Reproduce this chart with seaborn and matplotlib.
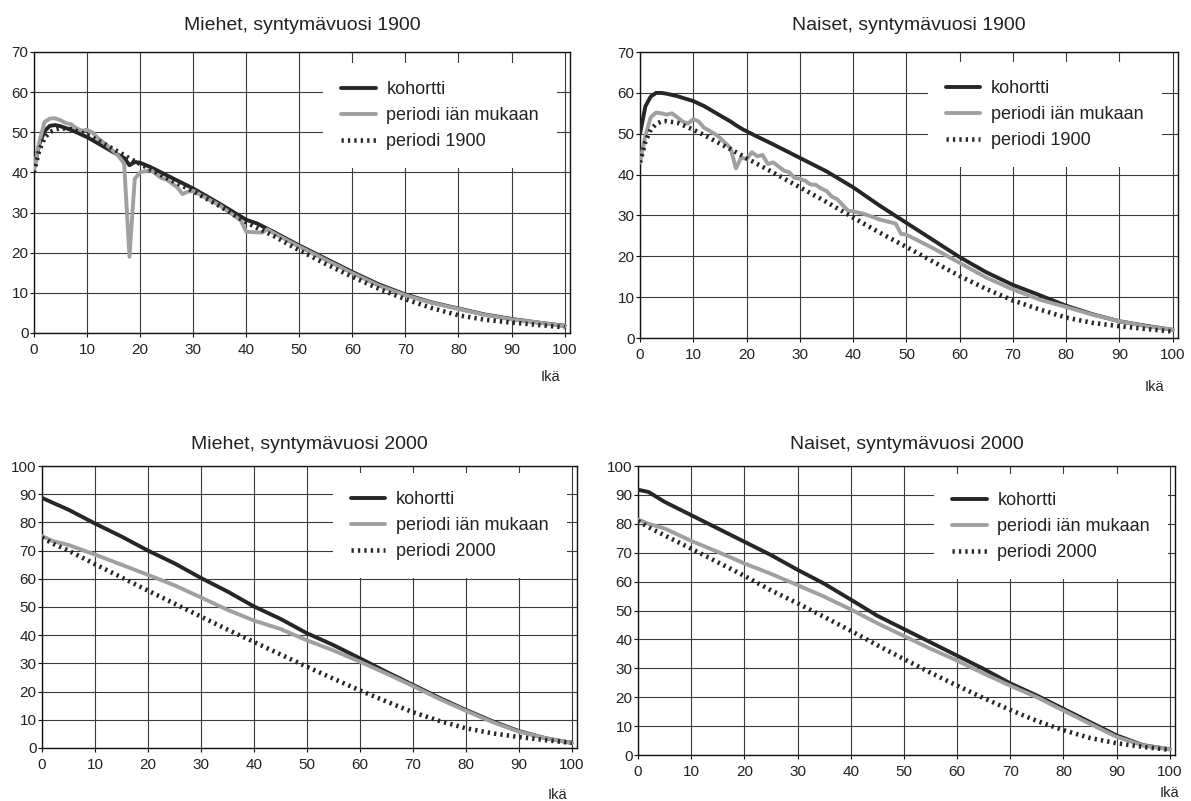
import numpy as np
import pandas as pd
import matplotlib
matplotlib.use("Agg")
import matplotlib.pyplot as plt
import seaborn as sns

# =============================================================================
# Data: remaining life expectancy by age
# =============================================================================

ages_1900 = [0, 1, 2, 3, 4, 5, 7, 10, 12, 15, 17, 18, 19, 20, 22, 25, 30, 35, 40, 42,
             45, 50, 55, 60, 65, 70, 75, 80, 85, 90, 95, 100]

# Men, born 1900
men1900_kohortti = [40.8, 47.0, 50.3, 51.6, 51.8, 51.5, 50.6, 48.8, 47.3, 45.0, 43.6, 41.8,
                    42.6, 42.4, 41.3, 39.3, 36.0, 32.2, 28.2, 27.3, 25.3, 21.8, 18.5, 15.2,
                    12.1, 9.6, 7.6, 6.1, 4.6, 3.5, 2.6, 1.8]
men1900_periodi = [40.0, 45.5, 48.6, 50.0, 50.7, 51.0, 50.8, 49.4, 48.0, 45.8, 44.3, 43.5,
                   42.8, 42.1, 40.7, 38.6, 35.3, 31.6, 27.6, 26.2, 24.3, 20.6, 17.2, 14.0,
                   11.0, 8.4, 6.2, 4.4, 3.3, 2.6, 2.0, 1.4]
men1900_ika_ages = [0, 1, 2, 3, 4, 5, 6, 7, 8, 9, 10, 11, 12, 14, 16, 17, 18, 19, 20, 22,
                    24, 25, 27, 28, 29, 30, 35, 39, 40, 43, 44, 45, 50, 55, 60, 65, 70, 75,
                    80, 85, 90, 95, 100]
men1900_ika = [40.5, 47.5, 52.6, 53.4, 53.5, 53.0, 52.3, 52.0, 51.0, 50.4, 50.6, 50.0, 48.6,
               46.5, 44.0, 42.2, 19.0, 38.4, 40.0, 40.6, 38.6, 38.2, 36.3, 34.6, 35.2, 35.4,
               31.8, 28.0, 25.2, 25.0, 25.8, 25.0, 21.5, 18.2, 14.9, 11.8, 9.4, 7.5, 6.0,
               4.5, 3.4, 2.6, 1.7]

# Women, born 1900
women1900_kohortti = [50.0, 56.7, 59.1, 60.0, 60.0, 59.8, 59.2, 58.0, 56.8, 54.5, 53.0, 52.1,
                      51.3, 50.6, 49.3, 47.4, 44.1, 40.8, 36.9, 35.1, 32.4, 28.2, 24.0, 19.8,
                      16.1, 13.0, 10.5, 7.9, 5.8, 4.1, 3.0, 2.0]
women1900_periodi = [43.0, 48.0, 51.0, 52.4, 53.0, 53.1, 52.7, 51.0, 49.7, 47.6, 46.2, 45.5,
                     44.8, 44.0, 42.6, 40.5, 36.9, 33.3, 29.5, 28.0, 25.8, 22.3, 18.7, 15.2,
                     12.0, 9.2, 7.0, 5.0, 3.7, 2.9, 2.2, 1.6]
women1900_ika_ages = [0, 1, 2, 3, 4, 5, 6, 7, 8, 9, 10, 11, 12, 14, 15, 17, 18, 19, 20, 21,
                      22, 23, 24, 25, 26, 27, 28, 29, 30, 31, 32, 33, 34, 35, 36, 37, 38, 39,
                      40, 42, 45, 48, 49, 50, 55, 60, 65, 70, 75, 80, 85, 90, 95, 100]
women1900_ika = [43.0, 49.5, 54.0, 55.2, 55.0, 54.7, 55.0, 54.0, 53.0, 52.5, 53.6, 53.0, 51.5,
                 50.0, 49.0, 46.5, 41.5, 44.2, 43.8, 45.5, 44.5, 44.8, 42.6, 43.0, 42.0, 41.0,
                 40.6, 39.2, 39.0, 38.5, 37.6, 37.5, 36.6, 36.0, 34.6, 34.0, 32.6, 31.2, 31.0,
                 30.4, 29.0, 28.0, 25.5, 25.3, 22.0, 18.4, 14.8, 11.9, 9.4, 7.6, 5.7, 4.1,
                 2.9, 2.0]

ages_2000 = [0, 2, 5, 10, 15, 20, 25, 30, 35, 40, 45, 50, 55, 60, 65, 70, 75, 80, 85, 90,
             95, 100]

# Men, born 2000
men2000_kohortti = [88.7, 87.0, 84.5, 79.6, 75.0, 70.0, 65.5, 60.3, 55.5, 50.2, 45.8, 40.7,
                    36.5, 31.8, 27.0, 22.4, 17.8, 13.5, 9.5, 6.0, 3.5, 1.8]
men2000_ika = [75.2, 73.4, 72.0, 68.6, 65.0, 61.4, 57.7, 53.4, 49.0, 45.2, 42.2, 38.2, 34.6,
               30.6, 26.4, 22.0, 17.4, 13.2, 9.2, 5.8, 3.5, 1.8]
men2000_periodi = [74.6, 72.5, 70.0, 65.2, 60.5, 55.8, 51.2, 46.6, 42.0, 37.6, 33.2, 28.8,
                   24.6, 20.4, 16.5, 12.7, 9.6, 7.0, 5.2, 3.9, 2.8, 1.8]

# Women, born 2000
women2000_kohortti = [91.8, 91.0, 87.6, 83.0, 78.4, 73.8, 69.2, 64.1, 59.3, 53.8, 48.2, 43.6,
                      39.0, 34.4, 29.8, 24.8, 20.6, 16.0, 11.4, 6.8, 3.4, 2.0]
women2000_ika = [81.5, 80.0, 78.4, 74.1, 70.3, 66.3, 62.7, 58.8, 54.8, 50.4, 45.6, 41.2, 36.8,
                 32.7, 28.2, 24.0, 20.0, 15.4, 10.8, 6.3, 3.3, 2.0]
women2000_periodi = [81.0, 78.8, 76.0, 71.4, 66.7, 62.0, 57.0, 52.5, 47.8, 43.0, 38.0, 33.2,
                     28.5, 24.0, 19.7, 15.6, 11.8, 8.6, 5.9, 4.1, 2.8, 1.8]

# =============================================================================
# Style
# =============================================================================
sns.set_style("white")
plt.rcParams['font.family'] = ['Liberation Sans', 'DejaVu Sans']

BLACK = '#262626'
GREY = '#a0a0a0'
GRID = '#3a3a3a'

fig = plt.figure(figsize=(11.91, 8.01), dpi=100)


def draw_panel(rect, title, ymax, koh, ika_x, ika, per_x, per, per_label,
               leg_anchor, ika_pos, title_pad):
    ax = fig.add_axes(rect)

    sns.lineplot(x=per_x, y=koh, ax=ax, color=BLACK, lw=2.8, label='kohortti', zorder=3)
    sns.lineplot(x=ika_x, y=ika, ax=ax, color=GREY, lw=2.8, label='periodi iän mukaan', zorder=4)
    sns.lineplot(x=per_x, y=per, ax=ax, color=BLACK, lw=3.3, label=per_label, zorder=5,
                 linestyle=(0, (0.5, 0.9)))

    ax.set_xlim(0, 101)
    ax.set_ylim(0, ymax)
    ax.set_xticks(range(0, 101, 10))
    ax.set_yticks(range(0, ymax + 1, 10))
    ax.grid(True, color=GRID, lw=0.8)
    ax.set_axisbelow(True)
    for s in ax.spines.values():
        s.set_color('#111111')
        s.set_linewidth(1.0)
    ax.tick_params(axis='both', which='both', direction='out', length=3, width=0.8,
                   color='#111111', labelsize=11, labelcolor='#222222',
                   left=True, bottom=True)
    ax.tick_params(axis='y', pad=1)
    ax.tick_params(axis='x', pad=4)
    ax.set_xlabel('')
    ax.set_ylabel('')

    ax.set_title(title, fontsize=14, color='#222222', pad=title_pad)
    ax.text(ika_pos[0], ika_pos[1], 'Ikä', transform=ax.transAxes, ha='center',
            va='center', fontsize=10.5, color='#222222')

    leg = ax.legend(loc='upper right', bbox_to_anchor=leg_anchor, borderaxespad=0,
                    fontsize=13, frameon=True, framealpha=1, facecolor='white',
                    edgecolor='none', fancybox=False, borderpad=1.0, labelspacing=0.5,
                    handlelength=1.9, handletextpad=0.6)
    for t in leg.get_texts():
        t.set_color('#222222')
    leg.set_zorder(6)
    return ax


# =============================================================================
# Four panels
# =============================================================================
draw_panel([0.0285, 0.5843, 0.450, 0.3508], 'Miehet, syntymävuosi 1900', 70,
           men1900_kohortti, men1900_ika_ages, men1900_ika, ages_1900, men1900_periodi,
           'periodi 1900', (0.976, 0.961), (0.963, -0.157), 16)

draw_panel([0.5374, 0.578, 0.4517, 0.357], 'Naiset, syntymävuosi 1900', 70,
           women1900_kohortti, women1900_ika_ages, women1900_ika, ages_1900, women1900_periodi,
           'periodi 1900', (0.970, 0.965), (0.957, -0.171), 16)

draw_panel([0.0353, 0.0662, 0.4492, 0.352], 'Miehet, syntymävuosi 2000', 100,
           men2000_kohortti, ages_2000, men2000_ika, ages_2000, men2000_periodi,
           'periodi 2000', (0.981, 0.975), (0.964, -0.167), 12)

draw_panel([0.5357, 0.0574, 0.4509, 0.3608], 'Naiset, syntymävuosi 2000', 100,
           women2000_kohortti, ages_2000, women2000_ika, ages_2000, women2000_periodi,
           'periodi 2000', (0.987, 0.972), (0.990, -0.131), 12)

plt.savefig('out.png', dpi=100)
